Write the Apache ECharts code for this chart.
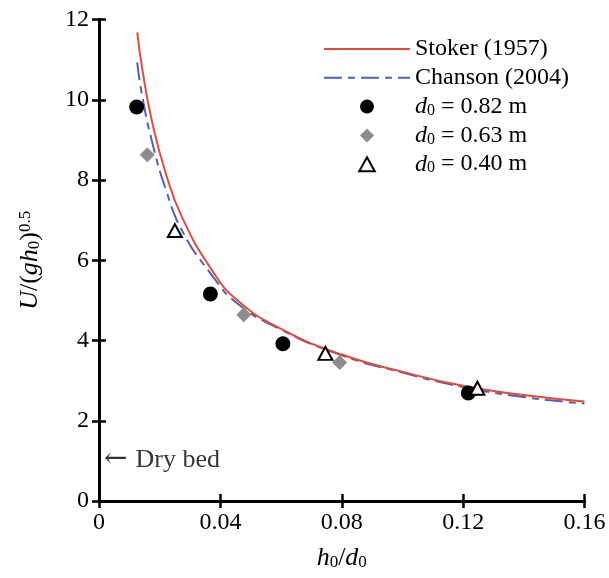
<!DOCTYPE html>
<html>
<head>
<meta charset="utf-8">
<script src="https://cdn.jsdelivr.net/npm/echarts@6/dist/echarts.min.js"></script>
<style>
  html, body { margin: 0; padding: 0; background: #fff; }
  #chart { width: 609px; height: 578px; }
</style>
</head>
<body>
<div id="chart"></div>
<script>
// Dimensionless surge front celerity U/(g h0)^0.5 against depth ratio h0/d0

// Stoker (1957) theoretical curve
const stokerX = [0.0126, 0.0143, 0.0175, 0.0220, 0.0275, 0.0370, 0.0455, 0.0600, 0.0800, 0.1000, 0.1200, 0.1400, 0.1600];
const stokerY = [11.68, 10.75, 9.45, 8.17, 7.05, 5.78, 5.01, 4.29, 3.65, 3.22, 2.87, 2.64, 2.48];

// Chanson (2004) theoretical curve
const chansonX = [0.0126, 0.0140, 0.0175, 0.0220, 0.0275, 0.0370, 0.0455, 0.0600, 0.0800, 0.1000, 0.1200, 0.1400, 0.1600];
const chansonY = [10.93, 10.20, 8.95, 7.77, 6.72, 5.65, 4.93, 4.27, 3.63, 3.20, 2.84, 2.59, 2.43];

// Measurements, reservoir depth d0 = 0.82 m
const d082X = [0.0124, 0.0367, 0.0606, 0.1217];
const d082Y = [9.82, 5.16, 3.92, 2.69];

// Measurements, d0 = 0.63 m
const d063X = [0.0159, 0.0477, 0.0793];
const d063Y = [8.63, 4.64, 3.45];

// Measurements, d0 = 0.40 m
const d040X = [0.0250, 0.0746, 0.1247];
const d040Y = [6.74, 3.68, 2.81];

// Tick labels
const xTicks = ['0', '0.04', '0.08', '0.12', '0.16'];
const yTicks = ['0', '2', '4', '6', '8', '10', '12'];

// Annotation for the dry downstream bed limit
const dryBedPoint = [0, 1.02];

const pairs = (xs, ys) => xs.map((x, i) => [x, ys[i]]);

const FONT = '"Liberation Serif", "Times New Roman", serif';
const RED = '#e4493a';
const BLUE = '#4565b8';
const GREY = '#8c8c8c';

function makeRich(size, sub) {
  return {
    n: { fontFamily: FONT, fontSize: size, lineHeight: size, color: '#000' },
    i: { fontFamily: FONT, fontSize: size, lineHeight: size, fontStyle: 'italic', color: '#000' },
    s: { fontFamily: FONT, fontSize: sub, lineHeight: sub * 0.75, verticalAlign: 'bottom', color: '#000' },
    p: { fontFamily: FONT, fontSize: sub, lineHeight: sub * 0.75, verticalAlign: 'top', color: '#000' }
  };
}
const rich = makeRich(24, 16);
const nameRich = makeRich(26, 17);

const names = {
  stoker: 'Stoker (1957)',
  chanson: 'Chanson (2004)',
  d082: 'd0 = 0.82 m',
  d063: 'd0 = 0.63 m',
  d040: 'd0 = 0.40 m'
};

function legendLabel(name) {
  if (name.indexOf('d0') === 0) {
    return '{i|d}{s|0}{n|' + name.slice(2) + '}';
  }
  return '{n|' + name + '}';
}

const diamondPath = 'path://M5,0L10,5L5,10L0,5Z';
const trianglePath = 'path://M5,0L10,9L0,9Z';
const hiddenMarker = { color: 'rgba(0,0,0,0)', borderWidth: 0 };

const chart = echarts.init(document.getElementById('chart'), null, { renderer: 'canvas' });

const axisLineStyle = { color: '#000', width: 3 };
const tickStyle = { color: '#000', width: 2.5 };

chart.setOption({
  backgroundColor: '#fff',
  animation: false,
  grid: {
    left: 99, right: 24.5, top: 19.5, bottom: 77,
    containLabel: false, outerBoundsMode: 'none'
  },
  legend: {
    orient: 'vertical',
    left: 318,
    top: 32,
    itemWidth: 86,
    itemHeight: 14,
    itemGap: 4.8,
    selectedMode: false,
    formatter: legendLabel,
    textStyle: { fontFamily: FONT, fontSize: 24, lineHeight: 24, color: '#000', rich: rich },
    data: [
      { name: names.stoker, itemStyle: hiddenMarker },
      { name: names.chanson, itemStyle: hiddenMarker },
      { name: names.d082, icon: 'circle', itemStyle: { color: '#000', borderWidth: 0, opacity: 1 } },
      { name: names.d063, icon: diamondPath, itemStyle: { color: GREY, borderWidth: 0, opacity: 1 } },
      { name: names.d040, icon: trianglePath, itemStyle: { color: '#fff', borderColor: '#000', borderWidth: 2, opacity: 1 } }
    ]
  },
  xAxis: [
    {
      type: 'value', position: 'bottom', min: 0, max: 0.16, interval: 0.04,
      name: '{i|h}{s|0}{n|/}{i|d}{s|0}',
      nameLocation: 'middle', nameGap: 44,
      nameTextStyle: { rich: nameRich },
      axisLine: { show: true, lineStyle: axisLineStyle },
      axisTick: { show: true, inside: true, length: 7, lineStyle: tickStyle },
      axisLabel: {
        margin: 10, color: '#000', fontFamily: FONT, fontSize: 24,
        formatter: (v) => xTicks[Math.round(v / 0.04)]
      },
      splitLine: { show: false }
    },
    {
      type: 'value', position: 'top', min: 0, max: 0.16, interval: 0.04,
      axisLine: { show: true, lineStyle: axisLineStyle },
      axisTick: { show: true, inside: true, length: 7, lineStyle: tickStyle },
      axisLabel: { show: false },
      splitLine: { show: false }
    }
  ],
  yAxis: [
    {
      type: 'value', position: 'left', min: 0, max: 12, interval: 2,
      name: '{i|U}{n|/(}{i|gh}{s|0}{n|)}{p|0.5}',
      nameLocation: 'middle', nameGap: 56, nameRotate: 90,
      nameTextStyle: { rich: nameRich },
      axisLine: { show: true, lineStyle: axisLineStyle },
      axisTick: { show: true, inside: true, length: 7, lineStyle: tickStyle },
      axisLabel: {
        margin: 10, color: '#000', fontFamily: FONT, fontSize: 24,
        formatter: (v) => yTicks[Math.round(v / 2)]
      },
      splitLine: { show: false }
    },
    {
      type: 'value', position: 'right', min: 0, max: 12, interval: 2,
      axisLine: { show: true, lineStyle: axisLineStyle },
      axisTick: { show: true, inside: true, length: 7, lineStyle: tickStyle },
      axisLabel: { show: false },
      splitLine: { show: false }
    }
  ],
  series: [
    {
      name: names.stoker, type: 'line', data: pairs(stokerX, stokerY),
      smooth: 0.5, showSymbol: false, symbol: 'none',
      lineStyle: { color: RED, width: 2 }, itemStyle: { color: RED }, z: 3
    },
    {
      name: names.chanson, type: 'line', data: pairs(chansonX, chansonY),
      smooth: 0.5, showSymbol: false, symbol: 'none',
      lineStyle: { color: BLUE, width: 2, type: [18, 6, 7, 6] }, itemStyle: { color: BLUE }, z: 2
    },
    {
      name: names.d082, type: 'scatter', data: pairs(d082X, d082Y),
      symbol: 'circle', symbolSize: 15, itemStyle: { color: '#000', opacity: 1 }, z: 4
    },
    {
      name: names.d063, type: 'scatter', data: pairs(d063X, d063Y),
      symbol: 'diamond', symbolSize: [15, 15], itemStyle: { color: GREY, opacity: 1 }, z: 4
    },
    {
      name: names.d040, type: 'scatter', data: pairs(d040X, d040Y),
      symbol: 'triangle', symbolSize: [14, 13],
      itemStyle: { color: '#fff', borderColor: '#000', borderWidth: 2, opacity: 1 }, z: 5
    },
    {
      name: 'dry bed', type: 'scatter', data: [dryBedPoint],
      symbolSize: 0, silent: true, z: 6,
      label: {
        show: true, position: 'right', distance: 5,
        formatter: '{a|\u2190}{t|Dry bed}',
        rich: {
          a: { fontFamily: '"DejaVu Serif", serif', fontSize: 28, color: '#000', padding: [0, 8, 0, 0] },
          t: { fontFamily: FONT, fontSize: 26, color: '#000' }
        }
      }
    }
  ]
});
</script>
</body>
</html>
